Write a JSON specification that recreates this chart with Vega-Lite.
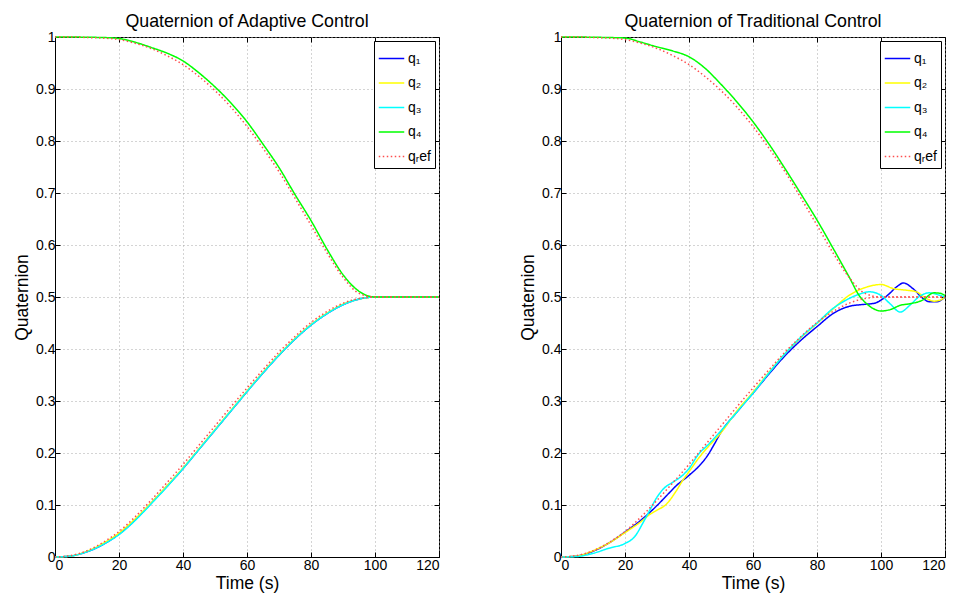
{
  "$schema": "https://vega.github.io/schema/vega-lite/v6.json",
  "background": "white",
  "padding": {"left": 13, "top": 12, "right": 5, "bottom": 5},
  "config": {
    "font": "Liberation Sans",
    "view": {"stroke": "black", "strokeWidth": 1},
    "axis": {
      "labelFontSize": 14, "labelColor": "black", "labelFont": "Liberation Sans",
      "titleFontSize": 17.5, "titleFontWeight": "normal", "titleColor": "black", "titleFont": "Liberation Sans",
      "domainColor": "black", "tickColor": "black", "tickSize": -5, "labelPadding": 5,
      "gridColor": "#a8a8a8", "gridDash": [1, 3], "gridOpacity": 1, "grid": true
    },
    "axisX": {"titlePadding": 2, "labelPadding": 6},
    "axisY": {"titlePadding": 4},
    "legend": {
      "fillColor": "white", "strokeColor": "black", "padding": 4, "cornerRadius": 0,
      "symbolType": "stroke", "symbolSize": 650, "symbolStrokeWidth": 1.5,
      "labelFontSize": 14, "labelColor": "black", "labelFont": "Liberation Sans",
      "rowPadding": 3.5, "offset": 4, "labelOffset": 3
    },
    "title": {"fontSize": 17.8, "fontWeight": "normal", "color": "black", "offset": -1, "font": "Liberation Sans"}
  },
  "datasets": {
    "adaptive": [
      {"t":0,"s":"q1","k":"q1","v":0},{"t":5,"s":"q1","k":"q1","v":0.002},{"t":10,"s":"q1","k":"q1","v":0.010},{"t":15,"s":"q1","k":"q1","v":0.024},{"t":20,"s":"q1","k":"q1","v":0.044},{"t":25,"s":"q1","k":"q1","v":0.071},{"t":30,"s":"q1","k":"q1","v":0.103},{"t":35,"s":"q1","k":"q1","v":0.136},{"t":40,"s":"q1","k":"q1","v":0.170},{"t":45,"s":"q1","k":"q1","v":0.207},{"t":50,"s":"q1","k":"q1","v":0.244},{"t":55,"s":"q1","k":"q1","v":0.281},{"t":60,"s":"q1","k":"q1","v":0.318},{"t":65,"s":"q1","k":"q1","v":0.354},{"t":70,"s":"q1","k":"q1","v":0.388},{"t":75,"s":"q1","k":"q1","v":0.419},{"t":80,"s":"q1","k":"q1","v":0.446},{"t":85,"s":"q1","k":"q1","v":0.468},{"t":90,"s":"q1","k":"q1","v":0.485},{"t":95,"s":"q1","k":"q1","v":0.496},{"t":100,"s":"q1","k":"q1","v":0.5},{"t":110,"s":"q1","k":"q1","v":0.5},{"t":120,"s":"q1","k":"q1","v":0.5},
      {"t":0,"s":"q2","k":"q2","v":0},{"t":5,"s":"q2","k":"q2","v":0.002},{"t":10,"s":"q2","k":"q2","v":0.011},{"t":15,"s":"q2","k":"q2","v":0.026},{"t":20,"s":"q2","k":"q2","v":0.046},{"t":25,"s":"q2","k":"q2","v":0.073},{"t":30,"s":"q2","k":"q2","v":0.104},{"t":35,"s":"q2","k":"q2","v":0.137},{"t":40,"s":"q2","k":"q2","v":0.171},{"t":45,"s":"q2","k":"q2","v":0.208},{"t":50,"s":"q2","k":"q2","v":0.245},{"t":55,"s":"q2","k":"q2","v":0.282},{"t":60,"s":"q2","k":"q2","v":0.319},{"t":65,"s":"q2","k":"q2","v":0.355},{"t":70,"s":"q2","k":"q2","v":0.389},{"t":75,"s":"q2","k":"q2","v":0.420},{"t":80,"s":"q2","k":"q2","v":0.447},{"t":85,"s":"q2","k":"q2","v":0.469},{"t":90,"s":"q2","k":"q2","v":0.486},{"t":95,"s":"q2","k":"q2","v":0.496},{"t":100,"s":"q2","k":"q2","v":0.5},{"t":110,"s":"q2","k":"q2","v":0.5},{"t":120,"s":"q2","k":"q2","v":0.5},
      {"t":0,"s":"q3","k":"q3","v":0},{"t":5,"s":"q3","k":"q3","v":0.002},{"t":10,"s":"q3","k":"q3","v":0.010},{"t":15,"s":"q3","k":"q3","v":0.024},{"t":20,"s":"q3","k":"q3","v":0.043},{"t":25,"s":"q3","k":"q3","v":0.070},{"t":30,"s":"q3","k":"q3","v":0.102},{"t":35,"s":"q3","k":"q3","v":0.135},{"t":40,"s":"q3","k":"q3","v":0.170},{"t":45,"s":"q3","k":"q3","v":0.207},{"t":50,"s":"q3","k":"q3","v":0.244},{"t":55,"s":"q3","k":"q3","v":0.281},{"t":60,"s":"q3","k":"q3","v":0.318},{"t":65,"s":"q3","k":"q3","v":0.354},{"t":70,"s":"q3","k":"q3","v":0.388},{"t":75,"s":"q3","k":"q3","v":0.419},{"t":80,"s":"q3","k":"q3","v":0.446},{"t":85,"s":"q3","k":"q3","v":0.468},{"t":90,"s":"q3","k":"q3","v":0.485},{"t":95,"s":"q3","k":"q3","v":0.496},{"t":100,"s":"q3","k":"q3","v":0.5},{"t":110,"s":"q3","k":"q3","v":0.5},{"t":120,"s":"q3","k":"q3","v":0.5},
      {"t":0,"s":"q4","k":"q4","v":1},{"t":5,"s":"q4","k":"q4","v":1},{"t":10,"s":"q4","k":"q4","v":0.9995},{"t":15,"s":"q4","k":"q4","v":0.999},{"t":20,"s":"q4","k":"q4","v":0.997},{"t":25,"s":"q4","k":"q4","v":0.990},{"t":30,"s":"q4","k":"q4","v":0.980},{"t":35,"s":"q4","k":"q4","v":0.969},{"t":40,"s":"q4","k":"q4","v":0.954},{"t":45,"s":"q4","k":"q4","v":0.931},{"t":50,"s":"q4","k":"q4","v":0.904},{"t":55,"s":"q4","k":"q4","v":0.873},{"t":60,"s":"q4","k":"q4","v":0.837},{"t":65,"s":"q4","k":"q4","v":0.794},{"t":70,"s":"q4","k":"q4","v":0.749},{"t":75,"s":"q4","k":"q4","v":0.697},{"t":80,"s":"q4","k":"q4","v":0.647},{"t":85,"s":"q4","k":"q4","v":0.592},{"t":90,"s":"q4","k":"q4","v":0.543},{"t":95,"s":"q4","k":"q4","v":0.511},{"t":100,"s":"q4","k":"q4","v":0.5},{"t":110,"s":"q4","k":"q4","v":0.5},{"t":120,"s":"q4","k":"q4","v":0.5},
      {"t":0,"s":"qref","k":"r1","v":0},{"t":5,"s":"qref","k":"r1","v":0.003},{"t":10,"s":"qref","k":"r1","v":0.012},{"t":15,"s":"qref","k":"r1","v":0.028},{"t":20,"s":"qref","k":"r1","v":0.049},{"t":25,"s":"qref","k":"r1","v":0.077},{"t":30,"s":"qref","k":"r1","v":0.109},{"t":35,"s":"qref","k":"r1","v":0.143},{"t":40,"s":"qref","k":"r1","v":0.178},{"t":45,"s":"qref","k":"r1","v":0.215},{"t":50,"s":"qref","k":"r1","v":0.252},{"t":55,"s":"qref","k":"r1","v":0.289},{"t":60,"s":"qref","k":"r1","v":0.325},{"t":65,"s":"qref","k":"r1","v":0.360},{"t":70,"s":"qref","k":"r1","v":0.394},{"t":75,"s":"qref","k":"r1","v":0.424},{"t":80,"s":"qref","k":"r1","v":0.451},{"t":85,"s":"qref","k":"r1","v":0.472},{"t":90,"s":"qref","k":"r1","v":0.488},{"t":95,"s":"qref","k":"r1","v":0.497},{"t":100,"s":"qref","k":"r1","v":0.5},{"t":110,"s":"qref","k":"r1","v":0.5},{"t":120,"s":"qref","k":"r1","v":0.5},
      {"t":0,"s":"qref","k":"r4","v":1},{"t":5,"s":"qref","k":"r4","v":1},{"t":10,"s":"qref","k":"r4","v":0.999},{"t":15,"s":"qref","k":"r4","v":0.998},{"t":20,"s":"qref","k":"r4","v":0.995},{"t":25,"s":"qref","k":"r4","v":0.988},{"t":30,"s":"qref","k":"r4","v":0.978},{"t":35,"s":"qref","k":"r4","v":0.964},{"t":40,"s":"qref","k":"r4","v":0.947},{"t":45,"s":"qref","k":"r4","v":0.924},{"t":50,"s":"qref","k":"r4","v":0.897},{"t":55,"s":"qref","k":"r4","v":0.865},{"t":60,"s":"qref","k":"r4","v":0.828},{"t":65,"s":"qref","k":"r4","v":0.786},{"t":70,"s":"qref","k":"r4","v":0.741},{"t":75,"s":"qref","k":"r4","v":0.690},{"t":80,"s":"qref","k":"r4","v":0.638},{"t":85,"s":"qref","k":"r4","v":0.585},{"t":90,"s":"qref","k":"r4","v":0.538},{"t":95,"s":"qref","k":"r4","v":0.507},{"t":100,"s":"qref","k":"r4","v":0.5},{"t":110,"s":"qref","k":"r4","v":0.5},{"t":120,"s":"qref","k":"r4","v":0.5}
    ],
    "traditional": [
      {"t":0,"s":"q1","k":"q1","v":0},{"t":5,"s":"q1","k":"q1","v":0.002},{"t":10,"s":"q1","k":"q1","v":0.011},{"t":15,"s":"q1","k":"q1","v":0.027},{"t":20,"s":"q1","k":"q1","v":0.048},{"t":25,"s":"q1","k":"q1","v":0.071},{"t":30,"s":"q1","k":"q1","v":0.099},{"t":33,"s":"q1","k":"q1","v":0.118},{"t":36,"s":"q1","k":"q1","v":0.137},{"t":40,"s":"q1","k":"q1","v":0.157},{"t":43,"s":"q1","k":"q1","v":0.174},{"t":46,"s":"q1","k":"q1","v":0.197},{"t":48,"s":"q1","k":"q1","v":0.218},{"t":50,"s":"q1","k":"q1","v":0.240},{"t":55,"s":"q1","k":"q1","v":0.279},{"t":60,"s":"q1","k":"q1","v":0.315},{"t":65,"s":"q1","k":"q1","v":0.352},{"t":70,"s":"q1","k":"q1","v":0.387},{"t":75,"s":"q1","k":"q1","v":0.417},{"t":80,"s":"q1","k":"q1","v":0.443},{"t":85,"s":"q1","k":"q1","v":0.468},{"t":90,"s":"q1","k":"q1","v":0.482},{"t":95,"s":"q1","k":"q1","v":0.486},{"t":98,"s":"q1","k":"q1","v":0.488},{"t":100,"s":"q1","k":"q1","v":0.494},{"t":102,"s":"q1","k":"q1","v":0.503},{"t":105,"s":"q1","k":"q1","v":0.520},{"t":107,"s":"q1","k":"q1","v":0.527},{"t":110,"s":"q1","k":"q1","v":0.516},{"t":113,"s":"q1","k":"q1","v":0.498},{"t":115,"s":"q1","k":"q1","v":0.491},{"t":117.5,"s":"q1","k":"q1","v":0.491},{"t":120,"s":"q1","k":"q1","v":0.5},
      {"t":0,"s":"q2","k":"q2","v":0},{"t":5,"s":"q2","k":"q2","v":0.002},{"t":10,"s":"q2","k":"q2","v":0.012},{"t":15,"s":"q2","k":"q2","v":0.027},{"t":20,"s":"q2","k":"q2","v":0.047},{"t":25,"s":"q2","k":"q2","v":0.068},{"t":28,"s":"q2","k":"q2","v":0.083},{"t":30,"s":"q2","k":"q2","v":0.090},{"t":33,"s":"q2","k":"q2","v":0.102},{"t":36,"s":"q2","k":"q2","v":0.127},{"t":38,"s":"q2","k":"q2","v":0.147},{"t":40,"s":"q2","k":"q2","v":0.164},{"t":43,"s":"q2","k":"q2","v":0.190},{"t":46,"s":"q2","k":"q2","v":0.212},{"t":50,"s":"q2","k":"q2","v":0.239},{"t":55,"s":"q2","k":"q2","v":0.281},{"t":60,"s":"q2","k":"q2","v":0.317},{"t":65,"s":"q2","k":"q2","v":0.355},{"t":70,"s":"q2","k":"q2","v":0.391},{"t":75,"s":"q2","k":"q2","v":0.422},{"t":80,"s":"q2","k":"q2","v":0.449},{"t":85,"s":"q2","k":"q2","v":0.477},{"t":90,"s":"q2","k":"q2","v":0.503},{"t":95,"s":"q2","k":"q2","v":0.518},{"t":100,"s":"q2","k":"q2","v":0.524},{"t":104,"s":"q2","k":"q2","v":0.516},{"t":108,"s":"q2","k":"q2","v":0.513},{"t":111,"s":"q2","k":"q2","v":0.510},{"t":114,"s":"q2","k":"q2","v":0.498},{"t":116.5,"s":"q2","k":"q2","v":0.492},{"t":118.5,"s":"q2","k":"q2","v":0.494},{"t":120,"s":"q2","k":"q2","v":0.5},
      {"t":0,"s":"q3","k":"q3","v":0},{"t":5,"s":"q3","k":"q3","v":0.001},{"t":10,"s":"q3","k":"q3","v":0.007},{"t":15,"s":"q3","k":"q3","v":0.017},{"t":20,"s":"q3","k":"q3","v":0.026},{"t":23,"s":"q3","k":"q3","v":0.039},{"t":26,"s":"q3","k":"q3","v":0.070},{"t":28,"s":"q3","k":"q3","v":0.093},{"t":30,"s":"q3","k":"q3","v":0.115},{"t":32,"s":"q3","k":"q3","v":0.131},{"t":35,"s":"q3","k":"q3","v":0.144},{"t":38,"s":"q3","k":"q3","v":0.157},{"t":40,"s":"q3","k":"q3","v":0.170},{"t":43,"s":"q3","k":"q3","v":0.198},{"t":46,"s":"q3","k":"q3","v":0.216},{"t":50,"s":"q3","k":"q3","v":0.243},{"t":55,"s":"q3","k":"q3","v":0.279},{"t":60,"s":"q3","k":"q3","v":0.315},{"t":65,"s":"q3","k":"q3","v":0.354},{"t":70,"s":"q3","k":"q3","v":0.391},{"t":75,"s":"q3","k":"q3","v":0.423},{"t":80,"s":"q3","k":"q3","v":0.450},{"t":85,"s":"q3","k":"q3","v":0.478},{"t":90,"s":"q3","k":"q3","v":0.497},{"t":93,"s":"q3","k":"q3","v":0.505},{"t":96.5,"s":"q3","k":"q3","v":0.510},{"t":100,"s":"q3","k":"q3","v":0.503},{"t":103,"s":"q3","k":"q3","v":0.486},{"t":106,"s":"q3","k":"q3","v":0.471},{"t":109,"s":"q3","k":"q3","v":0.484},{"t":112,"s":"q3","k":"q3","v":0.501},{"t":115,"s":"q3","k":"q3","v":0.508},{"t":118,"s":"q3","k":"q3","v":0.504},{"t":120,"s":"q3","k":"q3","v":0.5},
      {"t":0,"s":"q4","k":"q4","v":1},{"t":5,"s":"q4","k":"q4","v":1},{"t":10,"s":"q4","k":"q4","v":0.9995},{"t":15,"s":"q4","k":"q4","v":0.999},{"t":20,"s":"q4","k":"q4","v":0.998},{"t":25,"s":"q4","k":"q4","v":0.990},{"t":30,"s":"q4","k":"q4","v":0.981},{"t":35,"s":"q4","k":"q4","v":0.973},{"t":40,"s":"q4","k":"q4","v":0.962},{"t":45,"s":"q4","k":"q4","v":0.940},{"t":50,"s":"q4","k":"q4","v":0.909},{"t":55,"s":"q4","k":"q4","v":0.875},{"t":60,"s":"q4","k":"q4","v":0.837},{"t":65,"s":"q4","k":"q4","v":0.794},{"t":70,"s":"q4","k":"q4","v":0.747},{"t":75,"s":"q4","k":"q4","v":0.698},{"t":80,"s":"q4","k":"q4","v":0.648},{"t":85,"s":"q4","k":"q4","v":0.594},{"t":90,"s":"q4","k":"q4","v":0.539},{"t":93.5,"s":"q4","k":"q4","v":0.5},{"t":95,"s":"q4","k":"q4","v":0.490},{"t":97.5,"s":"q4","k":"q4","v":0.478},{"t":100,"s":"q4","k":"q4","v":0.473},{"t":103,"s":"q4","k":"q4","v":0.476},{"t":106,"s":"q4","k":"q4","v":0.484},{"t":109,"s":"q4","k":"q4","v":0.487},{"t":113,"s":"q4","k":"q4","v":0.494},{"t":116.5,"s":"q4","k":"q4","v":0.508},{"t":118.5,"s":"q4","k":"q4","v":0.507},{"t":120,"s":"q4","k":"q4","v":0.503},
      {"t":0,"s":"qref","k":"r1","v":0},{"t":5,"s":"qref","k":"r1","v":0.003},{"t":10,"s":"qref","k":"r1","v":0.012},{"t":15,"s":"qref","k":"r1","v":0.028},{"t":20,"s":"qref","k":"r1","v":0.049},{"t":25,"s":"qref","k":"r1","v":0.077},{"t":30,"s":"qref","k":"r1","v":0.109},{"t":35,"s":"qref","k":"r1","v":0.143},{"t":40,"s":"qref","k":"r1","v":0.178},{"t":45,"s":"qref","k":"r1","v":0.215},{"t":50,"s":"qref","k":"r1","v":0.252},{"t":55,"s":"qref","k":"r1","v":0.289},{"t":60,"s":"qref","k":"r1","v":0.325},{"t":65,"s":"qref","k":"r1","v":0.360},{"t":70,"s":"qref","k":"r1","v":0.394},{"t":75,"s":"qref","k":"r1","v":0.424},{"t":80,"s":"qref","k":"r1","v":0.451},{"t":85,"s":"qref","k":"r1","v":0.472},{"t":90,"s":"qref","k":"r1","v":0.488},{"t":95,"s":"qref","k":"r1","v":0.497},{"t":100,"s":"qref","k":"r1","v":0.5},{"t":110,"s":"qref","k":"r1","v":0.5},{"t":120,"s":"qref","k":"r1","v":0.5},
      {"t":0,"s":"qref","k":"r4","v":1},{"t":5,"s":"qref","k":"r4","v":1},{"t":10,"s":"qref","k":"r4","v":0.999},{"t":15,"s":"qref","k":"r4","v":0.998},{"t":20,"s":"qref","k":"r4","v":0.995},{"t":25,"s":"qref","k":"r4","v":0.988},{"t":30,"s":"qref","k":"r4","v":0.978},{"t":35,"s":"qref","k":"r4","v":0.964},{"t":40,"s":"qref","k":"r4","v":0.947},{"t":45,"s":"qref","k":"r4","v":0.924},{"t":50,"s":"qref","k":"r4","v":0.897},{"t":55,"s":"qref","k":"r4","v":0.865},{"t":60,"s":"qref","k":"r4","v":0.828},{"t":65,"s":"qref","k":"r4","v":0.786},{"t":70,"s":"qref","k":"r4","v":0.741},{"t":75,"s":"qref","k":"r4","v":0.690},{"t":80,"s":"qref","k":"r4","v":0.638},{"t":85,"s":"qref","k":"r4","v":0.585},{"t":90,"s":"qref","k":"r4","v":0.538},{"t":95,"s":"qref","k":"r4","v":0.507},{"t":100,"s":"qref","k":"r4","v":0.5},{"t":110,"s":"qref","k":"r4","v":0.5},{"t":120,"s":"qref","k":"r4","v":0.5}
    ]
  },
  "spacing": 122,
  "bounds": "flush",
  "resolve": {"scale": {"color": "independent", "strokeDash": "independent"}, "legend": {"color": "independent", "strokeDash": "independent"}},
  "hconcat": [
    {
      "width": 384, "height": 520,
      "title": "Quaternion of Adaptive Control",
      "data": {"name": "adaptive"},
      "resolve": {"axis": {"x": "independent", "y": "independent"}},
      "layer": [
        {
          "mark": {"type": "line", "interpolate": "monotone", "strokeWidth": 1.5},
          "encoding": {
            "x": {"field": "t", "type": "quantitative", "scale": {"domain": [0, 120], "nice": false}, "axis": {"title": "Time (s)", "values": [0, 20, 40, 60, 80, 100, 120]}},
            "y": {"field": "v", "type": "quantitative", "scale": {"domain": [0, 1], "nice": false}, "axis": {"title": "Quaternion", "format": "~g", "values": [0, 0.1, 0.2, 0.3, 0.4, 0.5, 0.6, 0.7, 0.8, 0.9, 1]}},
            "color": {"field": "s", "type": "nominal", "scale": {"domain": ["q1", "q2", "q3", "q4", "qref"], "range": ["#0000ff", "#ffff00", "#00ffff", "#00ff00", "#ff4d4d"]}, "legend": {"title": null, "orient": "top-right", "labelExpr": "datum.label == 'q1' ? 'q₁' : datum.label == 'q2' ? 'q₂' : datum.label == 'q3' ? 'q₃' : datum.label == 'q4' ? 'q₄' : 'qᵣef'"}},
            "strokeDash": {"field": "s", "type": "nominal", "scale": {"domain": ["q1", "q2", "q3", "q4", "qref"], "range": [[1, 0], [1, 0], [1, 0], [1, 0], [1.5, 2.5]]}, "legend": {"title": null, "orient": "top-right", "labelExpr": "datum.label == 'q1' ? 'q₁' : datum.label == 'q2' ? 'q₂' : datum.label == 'q3' ? 'q₃' : datum.label == 'q4' ? 'q₄' : 'qᵣef'"}},
            "detail": {"field": "k", "type": "nominal"}
          }
        },
        {
          "mark": {"type": "point", "opacity": 0},
          "encoding": {
            "x": {"field": "t", "type": "quantitative", "scale": {"domain": [0, 120], "nice": false}, "axis": {"orient": "top", "title": null, "labels": false, "grid": false, "domain": false, "values": [0, 20, 40, 60, 80, 100, 120]}},
            "y": {"field": "v", "type": "quantitative", "scale": {"domain": [0, 1], "nice": false}, "axis": {"orient": "right", "title": null, "labels": false, "grid": false, "domain": false, "values": [0, 0.1, 0.2, 0.3, 0.4, 0.5, 0.6, 0.7, 0.8, 0.9, 1]}}
          }
        }
      ]
    },
    {
      "width": 384, "height": 520,
      "title": "Quaternion of Traditional Control",
      "data": {"name": "traditional"},
      "resolve": {"axis": {"x": "independent", "y": "independent"}},
      "layer": [
        {
          "mark": {"type": "line", "interpolate": "monotone", "strokeWidth": 1.5},
          "encoding": {
            "x": {"field": "t", "type": "quantitative", "scale": {"domain": [0, 120], "nice": false}, "axis": {"title": "Time (s)", "values": [0, 20, 40, 60, 80, 100, 120]}},
            "y": {"field": "v", "type": "quantitative", "scale": {"domain": [0, 1], "nice": false}, "axis": {"title": "Quaternion", "format": "~g", "values": [0, 0.1, 0.2, 0.3, 0.4, 0.5, 0.6, 0.7, 0.8, 0.9, 1]}},
            "color": {"field": "s", "type": "nominal", "scale": {"domain": ["q1", "q2", "q3", "q4", "qref"], "range": ["#0000ff", "#ffff00", "#00ffff", "#00ff00", "#ff4d4d"]}, "legend": {"title": null, "orient": "top-right", "labelExpr": "datum.label == 'q1' ? 'q₁' : datum.label == 'q2' ? 'q₂' : datum.label == 'q3' ? 'q₃' : datum.label == 'q4' ? 'q₄' : 'qᵣef'"}},
            "strokeDash": {"field": "s", "type": "nominal", "scale": {"domain": ["q1", "q2", "q3", "q4", "qref"], "range": [[1, 0], [1, 0], [1, 0], [1, 0], [1.5, 2.5]]}, "legend": {"title": null, "orient": "top-right", "labelExpr": "datum.label == 'q1' ? 'q₁' : datum.label == 'q2' ? 'q₂' : datum.label == 'q3' ? 'q₃' : datum.label == 'q4' ? 'q₄' : 'qᵣef'"}},
            "detail": {"field": "k", "type": "nominal"}
          }
        },
        {
          "mark": {"type": "point", "opacity": 0},
          "encoding": {
            "x": {"field": "t", "type": "quantitative", "scale": {"domain": [0, 120], "nice": false}, "axis": {"orient": "top", "title": null, "labels": false, "grid": false, "domain": false, "values": [0, 20, 40, 60, 80, 100, 120]}},
            "y": {"field": "v", "type": "quantitative", "scale": {"domain": [0, 1], "nice": false}, "axis": {"orient": "right", "title": null, "labels": false, "grid": false, "domain": false, "values": [0, 0.1, 0.2, 0.3, 0.4, 0.5, 0.6, 0.7, 0.8, 0.9, 1]}}
          }
        }
      ]
    }
  ]
}
